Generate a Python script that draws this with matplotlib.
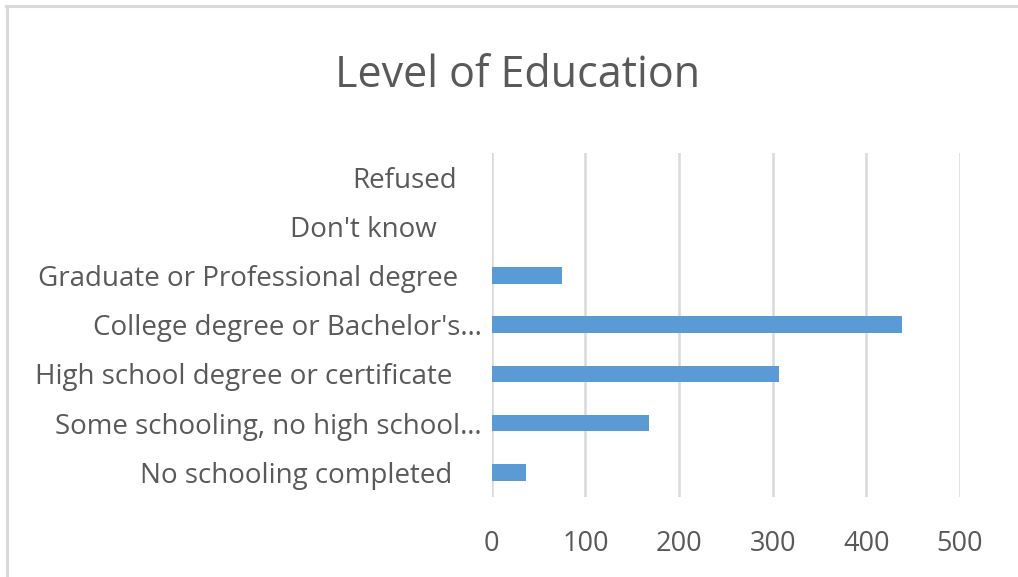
import matplotlib
matplotlib.use("Agg")
import matplotlib.pyplot as plt
from matplotlib.lines import Line2D
import matplotlib.transforms as mtransforms

categories = [
    "No schooling completed",
    "Some schooling, no high school\u2026",
    "High school degree or certificate",
    "College degree or Bachelor's\u2026",
    "Graduate or Professional degree",
    "Don't know",
    "Refused",
]
values = [37, 168, 307, 438, 75, 0, 0]
xticks = [0, 100, 200, 300, 400, 500]
title = "Level of Education"

# per-label horizontal shift (points) to mimic Excel label placement
label_shift = [-21.6, 0, -21.6, 0, -17.3, -32.4, -18]

plt.rcParams['font.family'] = ['Open Sans', 'DejaVu Sans']
text_color = "#595959"
grid_color = "#D9D9D9"
bar_color = "#5B9BD5"

fig = plt.figure(figsize=(10.18, 5.77), dpi=100)
ax = fig.add_axes([0.483, 0.139, 0.460, 0.596])

ypos = list(range(len(categories)))
ax.barh(ypos, values, height=0.34, color=bar_color, linewidth=0, zorder=3)
ax.set_xlim(0, 500)
ax.set_ylim(-0.5, len(categories) - 0.5)
ax.set_xticks(xticks)
ax.set_xticklabels([str(t) for t in xticks])
ax.set_yticks(ypos)
ax.set_yticklabels(categories)
ax.grid(axis="x", color=grid_color, linewidth=1.8, zorder=0)
ax.grid(axis="y", visible=False)
for s in ax.spines.values():
    s.set_visible(False)
ax.tick_params(axis="x", length=0, pad=24, labelsize=19.5, labelcolor=text_color)
ax.tick_params(axis="y", length=0, pad=7, labelsize=20, labelcolor=text_color)

for lbl, sh in zip(ax.get_yticklabels(), label_shift):
    lbl.set_transform(lbl.get_transform() + mtransforms.ScaledTranslation(sh / 72, 0, fig.dpi_scale_trans))

fig.text(0.508, 0.868, title, ha="center", va="center", fontsize=31, color=text_color)

# chart border (top and left)
fig.add_artist(Line2D([0.006, 1.0], [0.9895, 0.9895], transform=fig.transFigure, color=grid_color, linewidth=2.2))
fig.add_artist(Line2D([0.0065, 0.0065], [0.0, 0.9895], transform=fig.transFigure, color=grid_color, linewidth=2.2))

fig.savefig("out.png", dpi=100, facecolor="white")
